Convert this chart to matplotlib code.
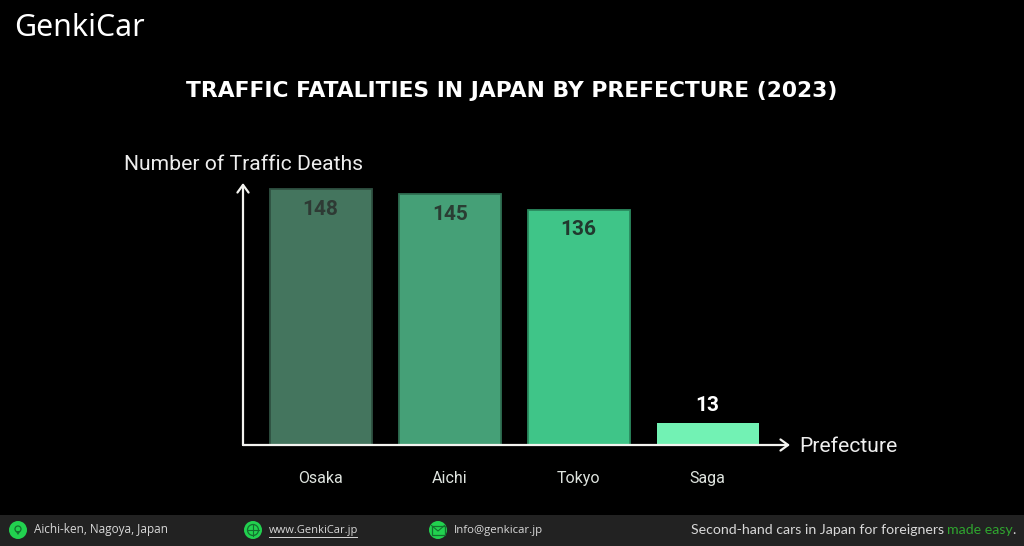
import matplotlib
matplotlib.use("Agg")
import matplotlib.pyplot as plt
from matplotlib.patches import Rectangle, Circle, Polygon

prefectures = ['Osaka', 'Aichi', 'Tokyo', 'Saga']
deaths = [148, 145, 136, 13]
bar_colors = ['#44755e', '#45a077', '#3fc588', '#72f2b4']
edge_colors = ['#2f5142', '#2f6f52', '#2b8a5f', '#72f2b4']
edge_widths = [1.3, 1.3, 1.3, 0]
value_colors = ['#2e3a34', '#2a3d33', '#21392e', '#ffffff']

W, H = 1024, 546
fig = plt.figure(figsize=(W / 100, H / 100), dpi=100, facecolor='black')

# overlay in pixel coords for footer, logo, title
bg = fig.add_axes([0, 0, 1, 1])
bg.set_xlim(0, W)
bg.set_ylim(H, 0)
bg.axis('off')

bg.text(14, 28, 'GenkiCar', color='white', fontsize=21.8, family='Noto Sans',
        fontweight='medium', va='center', ha='left')
title = 'TRAFFIC FATALITIES IN JAPAN BY PREFECTURE (2023)'
bg.text(512, 91, title, color='white', fontsize=15.7, family='DejaVu Sans',
        fontweight='bold', va='center', ha='center')

# footer
bg.add_patch(Rectangle((0, 515), W, 31, color='#222222', lw=0))
green = '#22d14f'
for cx in (18, 253, 438):
    bg.add_patch(Circle((cx, 530), 9, color=green, lw=0))
# pin
bg.add_patch(Circle((18, 529), 3, fill=False, ec='#14702f', lw=0.9))
bg.add_patch(Polygon([[15.5, 531], [20.5, 531], [18, 535]], color='#14702f', lw=0))
# globe
bg.add_patch(Circle((253, 530), 5.5, fill=False, ec='#14702f', lw=0.9))
bg.plot([247.5, 258.5], [530, 530], color='#14702f', lw=0.8)
bg.plot([253, 253], [524.5, 535.5], color='#14702f', lw=0.8)
# envelope
bg.add_patch(Rectangle((431.5, 525.5), 13, 9, fill=False, ec='#14702f', lw=0.9))
bg.plot([431.5, 438, 444.5], [525.5, 531, 525.5], color='#14702f', lw=0.8)

foot = dict(color='#d8d8d8', family='Open Sans', va='center', ha='left')
bg.text(34, 530, 'Aichi-ken, Nagoya, Japan', fontsize=8.5, **foot)
bg.text(269, 530.5, 'www.GenkiCar.jp', fontsize=8.0, **foot)
bg.plot([269, 357], [536.5, 536.5], color='#d8d8d8', lw=0.7)
bg.text(454, 530, 'Info@genkicar.jp', fontsize=8.2, **foot)

bg.text(691, 529.5, 'Second-hand cars in Japan for foreigners', color='#d8d8d8', fontsize=10.2,
        family='Lato', va='center', ha='left')
bg.text(947, 529.5, 'made easy', color='#2fa52f', fontsize=10.2, family='Lato', va='center', ha='left')
bg.text(1012, 529.5, '.', color='#d8d8d8', fontsize=10.2, family='Lato', va='center', ha='left')

# chart area: x axis 243-790 px, y axis 445-183 px
ax = fig.add_axes([243 / W, (H - 445) / H, (790 - 243) / W, (445 - 183) / H])
ax.patch.set_alpha(0)
ax.set_xlim(-0.602, 3.638)
ax.set_ylim(0, 151.5)
ax.bar(range(4), deaths, width=0.79, color=bar_colors, edgecolor=edge_colors, linewidth=edge_widths, zorder=2)

for i, (d, c) in enumerate(zip(deaths, value_colors)):
    offset = -20 if d > 50 else 17
    ax.annotate(str(d), (i, d), xytext=(0, offset), textcoords='offset pixels', ha='center', va='center',
                color=c, fontsize=15, family='Roboto', fontweight='bold', zorder=3)

for s in ax.spines.values():
    s.set_visible(False)
ax.set_yticks([])
ax.set_xticks(range(4))
ax.set_xticklabels(prefectures, color='#dfe4df', fontsize=11.5, family='Roboto')
ax.tick_params(axis='x', length=0, pad=19)

# axis arrows
arrow = dict(arrowstyle='->,head_length=0.55,head_width=0.4', color='#f4f4f0', lw=1.6, shrinkA=0, shrinkB=0)
ax.annotate('', xy=(1, 0), xytext=(0, 0), xycoords='axes fraction', textcoords='axes fraction',
            arrowprops=arrow, zorder=4)
ax.annotate('', xy=(0, 1), xytext=(0, 0), xycoords='axes fraction', textcoords='axes fraction',
            arrowprops=arrow, zorder=4)

bg.text(124, 164, 'Number of Traffic Deaths', color='#eeeeee', fontsize=15.2, family='Roboto',
        va='center', ha='left')
bg.text(799, 446.5, 'Prefecture', color='#eeeeee', fontsize=15.2, family='Roboto',
        va='center', ha='left')

fig.savefig('out.png', dpi=100, facecolor='black')
